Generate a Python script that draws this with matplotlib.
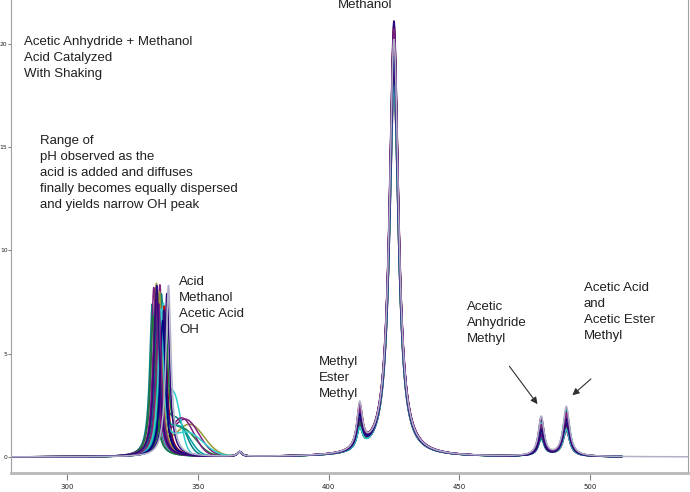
import numpy as np
import matplotlib
matplotlib.use("Agg")
import matplotlib.pyplot as plt

# peak positions (x axis units)
oh_pos = [332.6, 333.2, 333.8, 334.2, 334.6, 334.9, 335.2, 335.5, 335.8, 336.1,
          336.4, 336.8, 337.2, 337.6, 338.2, 333.5, 334.5, 335.4, 336.2, 337.0,
          332.9, 334.0, 335.9, 336.6, 335.1, 334.3, 338.8]
oh_height = [7.4, 8.2, 7.0, 8.3, 6.9, 7.8, 7.2, 8.1, 6.6, 7.5,
             7.0, 6.8, 7.3, 6.5, 7.9, 6.2, 7.6, 8.0, 6.4, 7.1,
             6.8, 7.7, 6.9, 6.6, 7.4, 8.3, 8.3]
methanol_height = [19.2, 20.4, 18.6, 19.8, 17.9, 20.6, 18.8, 19.5, 17.6, 20.1,
                   18.3, 19.0, 20.9, 18.1, 19.6, 17.8, 20.3, 18.9, 19.3, 21.1,
                   18.5, 19.9, 18.0, 19.4, 20.7, 18.7, 20.2]
ester_height = [1.6, 1.9, 1.3, 1.7, 1.1, 2.0, 1.4, 1.8, 1.2, 1.5,
                1.0, 1.6, 2.1, 1.3, 1.9, 1.1, 1.7, 1.4, 1.5, 2.0,
                1.2, 1.8, 1.0, 1.6, 1.9, 1.4, 2.2]
anhydride_height = [1.5, 1.2, 1.8, 0.9, 1.6, 1.1, 1.9, 1.3, 1.7, 0.8,
                    1.4, 1.0, 1.6, 1.2, 1.8, 1.5, 0.9, 1.3, 1.1, 1.7,
                    1.4, 1.0, 1.6, 1.2, 1.5, 1.3, 1.9]
acid_height = [1.6, 2.0, 1.3, 2.2, 1.5, 1.9, 1.2, 2.1, 1.4, 2.3,
               1.7, 1.8, 1.5, 2.0, 1.3, 1.6, 2.2, 1.4, 1.9, 1.5,
               1.7, 2.1, 1.3, 1.8, 2.0, 1.6, 2.4]
# broad tails to the right of the OH peak for some traces
shoulder_trace = [3, 7, 11, 15, 18, 22, 9, 13]
shoulder_pos = [347.0, 345.5, 341.0, 344.0, 343.0, 346.0, 342.0, 344.5]
shoulder_height = [1.5, 1.7, 2.6, 1.8, 1.3, 1.1, 1.6, 1.2]
shoulder_width = [5.5, 5.0, 2.5, 4.5, 4.0, 6.0, 3.5, 5.0]
trace_end = [512, 510, 508, 512, 505, 511, 512, 509, 512, 504,
             512, 510, 507, 512, 511, 509, 512, 506, 512, 510,
             508, 512, 511, 512, 503, 512, 537.5]

colors = ['#008080', '#7f1f7f', '#33cccc', '#999933', '#1a7a3a', '#2e0a7a',
          '#993366', '#7f1f7f', '#c0c0c0', '#008080', '#000000', '#33cccc',
          '#cc0000', '#1a7a3a', '#2e0a7a', '#7f1f7f', '#008080', '#999933',
          '#00a0a0', '#2e0a7a', '#1a7a3a', '#800080', '#33cccc', '#000080',
          '#7f1f7f', '#2e0a7a', '#b0b0c8']

methanol_pos = 425.0
ester_pos = 411.9
anhydride_pos = 481.3
acid_pos = 490.9
bump_pos = 366.0


def peak(x, c, h, w):
    return h / (1 + ((x - c) / w) ** 2)


fig = plt.figure(figsize=(6.9, 4.92), dpi=100)
ax = fig.add_axes([11 / 690, 19 / 492, 677 / 690, 473 / 492])

sh = {t: (p, h, w) for t, p, h, w in zip(shoulder_trace, shoulder_pos, shoulder_height, shoulder_width)}
for i in range(len(oh_pos)):
    x = np.linspace(278.6, trace_end[i], 3000)
    y = (peak(x, oh_pos[i], oh_height[i], 1.2)
         + peak(x, methanol_pos, methanol_height[i], 2.1)
         + peak(x, ester_pos, ester_height[i], 1.3)
         + peak(x, anhydride_pos, anhydride_height[i], 1.3)
         + peak(x, acid_pos, acid_height[i], 1.5)
         + peak(x, bump_pos, 0.22, 1.0))
    if i in sh:
        p, h, w = sh[i]
        y = y + h * np.exp(-0.5 * ((x - p) / w) ** 2)
    ax.plot(x, y, color=colors[i], lw=1.1)

ax.set_xlim(278.6, 537.4)
ax.set_ylim(-0.775, 22.13)
ax.set_xticks([300, 350, 400, 450, 500])
ax.set_yticks([0, 5, 10, 15, 20])
ax.tick_params(axis='both', colors='#808080', labelcolor='#202020', labelsize=5)
ax.tick_params(axis='x', pad=3, length=5)
ax.tick_params(axis='y', pad=0.5, length=2, labelsize=4.3)
ax.spines['top'].set_visible(False)
for s in ['left', 'right']:
    ax.spines[s].set_color('#a0a0a0')
ax.spines['bottom'].set_color('#b8b8b8')
ax.spines['bottom'].set_linewidth(2)

font = dict(family='Liberation Sans', fontsize=9.5, color='#202020', va='top', linespacing=1.45)


def px_text(x, y, s):
    fig.text(x / 690, 1 - y / 492, s, **font)


px_text(338, -1, 'Methanol')
px_text(24, 36, 'Acetic Anhydride + Methanol\nAcid Catalyzed\nWith Shaking')
px_text(40, 135, 'Range of\npH observed as the\nacid is added and diffuses\nfinally becomes equally dispersed\nand yields narrow OH peak')
px_text(179, 276, 'Acid\nMethanol\nAcetic Acid\nOH')
px_text(319, 356, 'Methyl\nEster\nMethyl')
px_text(467, 301, 'Acetic\nAnhydride\nMethyl')
px_text(584, 282, 'Acetic Acid\nand\nAcetic Ester\nMethyl')

arrow = dict(arrowstyle='-|>', color='#303030', lw=0.8, mutation_scale=10)
ax.annotate('', xy=(480.5, 2.45), xytext=(468.5, 4.5), arrowprops=arrow)
ax.annotate('', xy=(492.4, 2.9), xytext=(501.1, 3.87), arrowprops=arrow)

fig.savefig('out.png', dpi=100)
